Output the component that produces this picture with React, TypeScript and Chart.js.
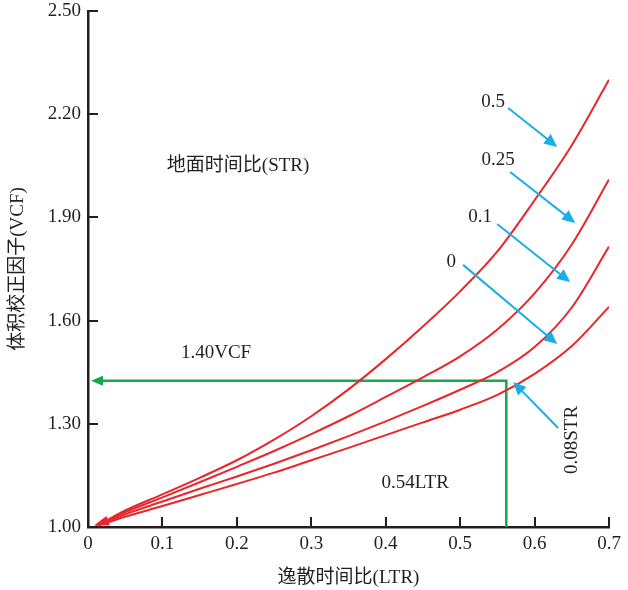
import React, { useEffect, useRef } from "react";
import { Chart, registerables } from "chart.js";

Chart.register(...registerables);

// ---- data ----
const ltr = [0.012, 0.05, 0.1, 0.15, 0.2, 0.25, 0.3, 0.35, 0.4, 0.45, 0.5, 0.55, 0.6, 0.65, 0.7];
const vcfStr05 = [1.003, 1.048, 1.095, 1.143, 1.194, 1.254, 1.322, 1.4, 1.488, 1.583, 1.685, 1.801, 1.95, 2.11, 2.3];
const vcfStr025 = [1.003, 1.043, 1.086, 1.13, 1.175, 1.221, 1.27, 1.322, 1.378, 1.435, 1.496, 1.574, 1.679, 1.821, 2.01];
const vcfStr01 = [1.003, 1.037, 1.074, 1.111, 1.147, 1.184, 1.223, 1.264, 1.307, 1.352, 1.399, 1.45, 1.523, 1.638, 1.815];
const vcfStr0 = [1.003, 1.03, 1.061, 1.093, 1.125, 1.158, 1.194, 1.23, 1.267, 1.304, 1.341, 1.384, 1.445, 1.526, 1.64];
const seriesNames = ["0.5", "0.25", "0.1", "0"];

// arrows pointing from STR labels to the curves
const strLabelX = [0.5444, 0.551, 0.527, 0.488];
const strLabelY = [2.235, 2.067, 1.901, 1.77];
const strArrowFromX = [0.5645, 0.5672, 0.5497, 0.504];
const strArrowFromY = [2.218, 2.032, 1.881, 1.762];
const strArrowToX = [0.6304, 0.6546, 0.6478, 0.6304];
const strArrowToY = [2.105, 1.884, 1.712, 1.532];

// 0.08 STR pointer
const str008Label = "0.08STR";
const str008LabelPos = [0.6505, 1.253];
const str008From = [0.6317, 1.288];
const str008To = [0.5712, 1.4215];

// worked example (green reading lines)
const readLTR = 0.562;
const readVCF = 1.425;
const readArrowTipX = 0.004;

// free text notes
const noteTexts = ["地面时间比(STR)", "1.40VCF", "0.54LTR"];
const noteX = [0.2016, 0.172, 0.4395];
const noteY = [2.049, 1.506, 1.128];

// origin arrowhead
const originTip = [0.008, 1.004];
const originDir = [0.1, 1.075];

const xTitle = "逸散时间比(LTR)";
const yTitle = "体积校正因子(VCF)";

const FAMILY = '"Liberation Serif", "Noto Sans CJK SC", serif';
const TEXT = "#231f20";
const RED = "#e8262b";
const BLUE = "#1aaee6";
const GREEN = "#17a84b";

function head(ctx: CanvasRenderingContext2D, x1: number, y1: number, x2: number, y2: number, len: number, hw: number, color: string) {
  const a = Math.atan2(y2 - y1, x2 - x1);
  const c = Math.cos(a), s = Math.sin(a);
  ctx.beginPath();
  ctx.moveTo(x2, y2);
  ctx.lineTo(x2 - len * c + hw * s, y2 - len * s - hw * c);
  ctx.lineTo(x2 - len * c - hw * s, y2 - len * s + hw * c);
  ctx.closePath();
  ctx.fillStyle = color;
  ctx.fill();
}

function arrow(ctx: CanvasRenderingContext2D, x1: number, y1: number, x2: number, y2: number, len: number, hw: number, color: string, lw: number) {
  const a = Math.atan2(y2 - y1, x2 - x1);
  const bx = x2 - (len - 2) * Math.cos(a);
  const by = y2 - (len - 2) * Math.sin(a);
  ctx.beginPath();
  ctx.moveTo(x1, y1);
  ctx.lineTo(bx, by);
  ctx.strokeStyle = color;
  ctx.lineWidth = lw;
  ctx.stroke();
  head(ctx, x1, y1, x2, y2, len, hw, color);
}

const annotate = {
  id: "annotate",
  beforeDatasetsDraw(chart: any) {
    const { ctx, scales } = chart;
    const xs = scales.x, ys = scales.y;
    ctx.save();
    const gx = xs.getPixelForValue(readLTR);
    const gy = ys.getPixelForValue(readVCF);
    const gb = ys.getPixelForValue(1.0);
    const tip = xs.getPixelForValue(readArrowTipX);
    ctx.beginPath();
    ctx.moveTo(gx, gb);
    ctx.lineTo(gx, gy);
    ctx.lineTo(tip + 10, gy);
    ctx.strokeStyle = GREEN;
    ctx.lineWidth = 2.5;
    ctx.lineJoin = "miter";
    ctx.stroke();
    head(ctx, gx, gy, tip, gy, 12, 5, GREEN);
    ctx.restore();
  },
  afterDraw(chart: any) {
    const { ctx, scales } = chart;
    const xs = scales.x, ys = scales.y;
    const px = (v: number) => xs.getPixelForValue(v);
    const py = (v: number) => ys.getPixelForValue(v);
    ctx.save();
    // inward ticks
    ctx.strokeStyle = TEXT;
    ctx.lineWidth = 2;
    ctx.beginPath();
    ys.ticks.forEach((t: any) => {
      const y = Math.round(py(t.value));
      ctx.moveTo(xs.left, y);
      ctx.lineTo(xs.left + 10, y);
    });
    xs.ticks.forEach((t: any) => {
      if (t.value === 0) return;
      const x = Math.round(px(t.value));
      ctx.moveTo(x, ys.bottom);
      ctx.lineTo(x, ys.bottom - 10);
    });
    ctx.stroke();

    head(ctx, px(originDir[0]), py(originDir[1]), px(originTip[0]), py(originTip[1]), 15, 5, RED);

    ctx.font = `19px ${FAMILY}`;
    ctx.fillStyle = TEXT;
    ctx.textAlign = "center";
    ctx.textBaseline = "middle";
    for (let i = 0; i < seriesNames.length; i++) {
      arrow(ctx, px(strArrowFromX[i]), py(strArrowFromY[i]), px(strArrowToX[i]), py(strArrowToY[i]), 13, 6, BLUE, 2);
      ctx.fillStyle = TEXT;
      ctx.fillText(seriesNames[i], px(strLabelX[i]), py(strLabelY[i]));
    }
    arrow(ctx, px(str008From[0]), py(str008From[1]), px(str008To[0]), py(str008To[1]), 13, 6, BLUE, 2);
    ctx.save();
    ctx.translate(px(str008LabelPos[0]), py(str008LabelPos[1]));
    ctx.rotate(-Math.PI / 2);
    ctx.fillStyle = TEXT;
    ctx.fillText(str008Label, 0, 0);
    ctx.restore();

    for (let i = 0; i < noteTexts.length; i++) {
      ctx.fillStyle = TEXT;
      ctx.fillText(noteTexts[i], px(noteX[i]), py(noteY[i]));
    }
    ctx.restore();
  },
};

export default function App() {
  const ref = useRef<HTMLCanvasElement>(null);
  useEffect(() => {
    const mk = (vals: number[]) => ltr.map((x, i) => ({ x, y: vals[i] }));
    const ds = [vcfStr05, vcfStr025, vcfStr01, vcfStr0].map((v, i) => ({
      label: seriesNames[i],
      data: mk(v),
      borderColor: RED,
      borderWidth: 2,
      pointRadius: 0,
      fill: false,
      cubicInterpolationMode: "monotone" as const,
    }));
    const chart = new Chart(ref.current!, {
      type: "line",
      data: { datasets: ds },
      options: {
        animation: false,
        responsive: false,
        devicePixelRatio: 1,
        layout: { padding: { top: 11, right: 19, bottom: 0, left: 0 } },
        plugins: { legend: { display: false }, tooltip: { enabled: false } },
        scales: {
          x: {
            type: "linear",
            min: 0,
            max: 0.7,
            grid: { display: false, drawTicks: false },
            border: { display: true, color: TEXT, width: 2.5 },
            ticks: {
              stepSize: 0.1,
              padding: 6,
              color: TEXT,
              font: { family: FAMILY, size: 19 },
              callback: (v: any) => (Number(v) === 0 ? "0" : Number(v).toFixed(1)),
            },
            title: { display: true, text: xTitle, color: TEXT, font: { family: FAMILY, size: 19 }, padding: { top: 0, bottom: 1 } },
            afterFit: (s: any) => { s.height = 63; s.paddingLeft = 0; s.paddingRight = 0; },
          },
          y: {
            type: "linear",
            min: 1.0,
            max: 2.5,
            grid: { display: false, drawTicks: false },
            border: { display: true, color: TEXT, width: 2.5 },
            ticks: {
              stepSize: 0.3,
              padding: 7,
              color: TEXT,
              font: { family: FAMILY, size: 19 },
              callback: (v: any) => Number(v).toFixed(2),
            },
            title: { display: true, text: yTitle, color: TEXT, font: { family: FAMILY, size: 19 }, padding: { top: 7, bottom: 0 } },
            afterFit: (s: any) => { s.width = 88; s.paddingTop = 0; s.paddingBottom = 0; },
          },
        },
      },
      plugins: [annotate],
    });
    return () => chart.destroy();
  }, []);
  return (
    <div style={{ position: "absolute", left: 0, top: 0, width: 628, height: 590 }}>
      <canvas ref={ref} width={628} height={590} style={{ width: 628, height: 590 }} />
    </div>
  );
}
